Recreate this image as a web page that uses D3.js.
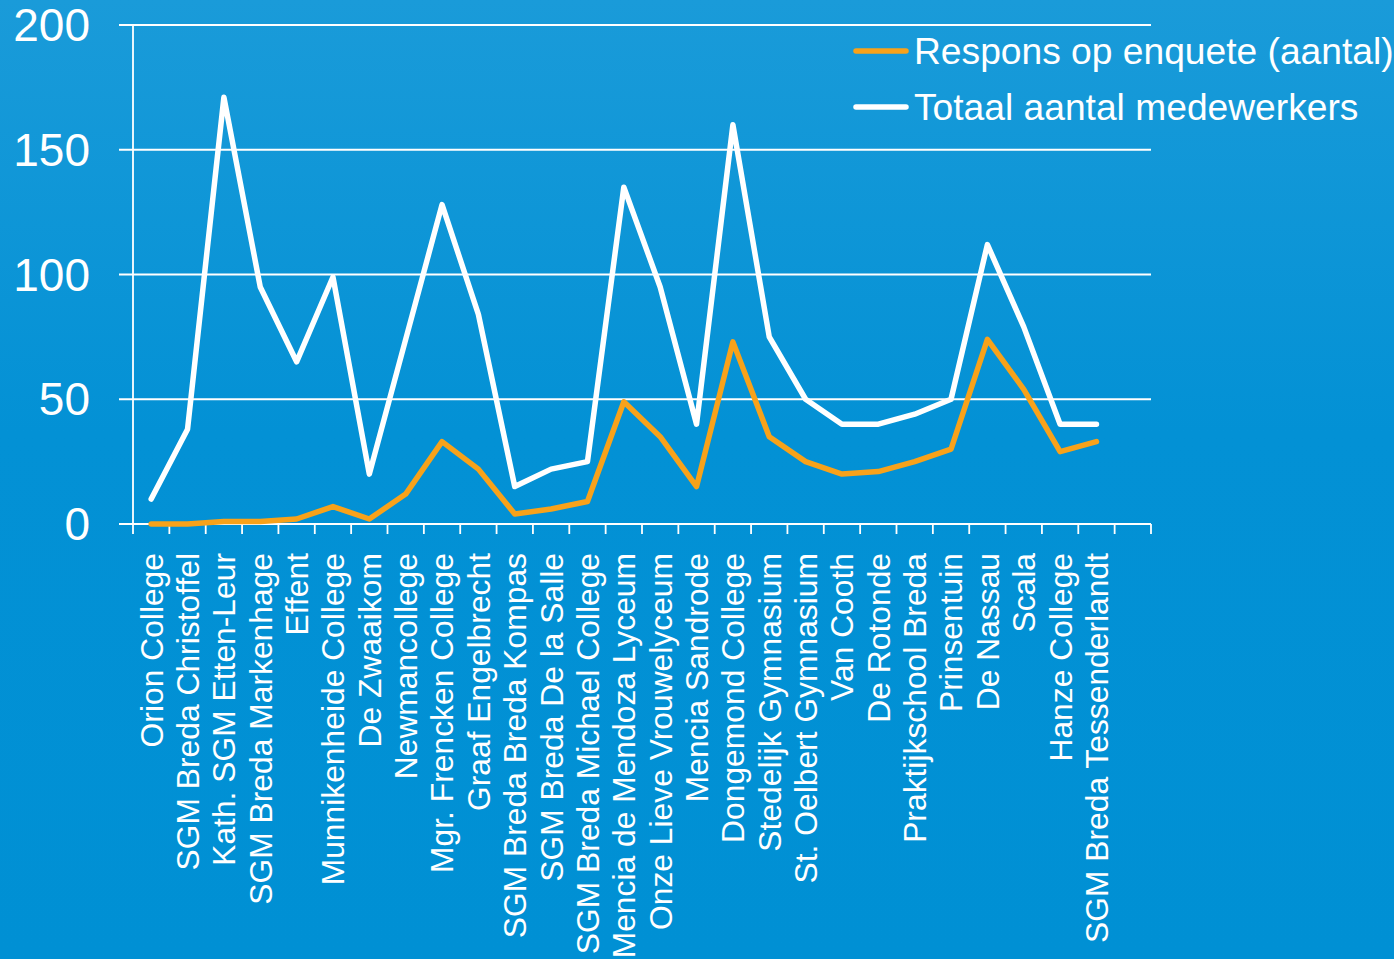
<!DOCTYPE html>
<html>
<head>
<meta charset="utf-8">
<script src="https://cdn.jsdelivr.net/npm/d3@7/dist/d3.min.js"></script>
<style>
  html, body { margin: 0; padding: 0; overflow: hidden; }
  body { width: 1394px; height: 959px; }
  svg { display: block; }
  text { font-family: "Liberation Sans", Arial, sans-serif; fill: #ffffff; }
</style>
</head>
<body>
<svg id="chart" width="1394" height="959"></svg>
<script>
const categories = [
  "Orion College", "SGM Breda Christoffel", "Kath. SGM Etten-Leur", "SGM Breda Markenhage",
  "Effent", "Munnikenheide College", "De Zwaaikom", "Newmancollege", "Mgr. Frencken College",
  "Graaf Engelbrecht", "SGM Breda Breda Kompas", "SGM Breda De la Salle", "SGM Breda Michael College",
  "Mencia de Mendoza Lyceum", "Onze Lieve Vrouwelyceum", "Mencia Sandrode", "Dongemond College",
  "Stedelijk Gymnasium", "St. Oelbert Gymnasium", "Van Cooth", "De Rotonde", "Praktijkschool Breda",
  "Prinsentuin", "De Nassau", "Scala", "Hanze College", "SGM Breda Tessenderlandt"
];
const respons = [0, 0, 1, 1, 2, 7, 2, 12, 33, 22, 4, 6, 9, 49, 35, 15, 73, 35, 25, 20, 21, 25, 30, 74, 54, 29, 33];
const totaal  = [10, 38, 171, 95, 65, 99, 20, 74, 128, 84, 15, 22, 25, 135, 95, 40, 160, 75, 50, 40, 40, 44, 50, 112, 79, 40, 40];
const yTicks = [0, 50, 100, 150, 200];
const seriesNames = ["Respons op enquete (aantal)", "Totaal aantal medewerkers"];
const seriesColors = ["#f8a21a", "#ffffff"];
const slotCount = 28; // one empty slot at the end of the axis

(function () {
const svg = d3.select("#chart");
const W = 1394, H = 959;

// background gradient
const defs = svg.append("defs");
const grad = defs.append("linearGradient").attr("id", "bg").attr("x1", 0).attr("y1", 0).attr("x2", 0).attr("y2", 1);
grad.append("stop").attr("offset", "0%").attr("stop-color", "#1a9bd9");
grad.append("stop").attr("offset", "45%").attr("stop-color", "#0391d5");
grad.append("stop").attr("offset", "100%").attr("stop-color", "#0090d4");
svg.append("rect").attr("width", W).attr("height", H).attr("fill", "url(#bg)");

const pL = 133, pR = 1151, pT = 25, pB = 524;
const x = d3.scaleBand().domain(d3.range(slotCount)).range([pL, pR]).paddingInner(0).paddingOuter(0);
const y = d3.scaleLinear().domain([0, 200]).range([pB, pT]);
const bw = x.bandwidth();

// gridlines
svg.append("g").selectAll("line").data(yTicks).join("line")
  .attr("x1", 119).attr("x2", pR)
  .attr("y1", d => y(d)).attr("y2", d => y(d))
  .attr("stroke", "#ffffff").attr("stroke-width", 1.8);

// y axis line
svg.append("line").attr("x1", pL).attr("x2", pL).attr("y1", pT).attr("y2", pB + 10)
  .attr("stroke", "#ffffff").attr("stroke-width", 1.8);

// x ticks at band boundaries
const bounds = d3.range(1, slotCount + 1).map(i => i < slotCount ? x(i) : pR);
svg.append("g").selectAll("line").data(bounds).join("line")
  .attr("x1", d => d).attr("x2", d => d)
  .attr("y1", pB).attr("y2", pB + 10)
  .attr("stroke", "#ffffff").attr("stroke-width", 1.8);

// y tick labels
svg.append("g").selectAll("text").data(yTicks).join("text")
  .attr("x", 90).attr("y", d => y(d)).attr("dy", "0.35em")
  .attr("text-anchor", "end").attr("font-size", 46)
  .text(d => d);

// x labels
svg.append("g").selectAll("text").data(categories).join("text")
  .attr("transform", (d, i) => `translate(${x(i) + bw / 2},553) rotate(-90)`)
  .attr("dy", "0.36em")
  .attr("text-anchor", "end").attr("font-size", 31.8)
  .text(d => d);

// lines
const line = d3.line().x((d, i) => x(i) + bw / 2).y(d => y(d));
[[totaal, seriesColors[1]], [respons, seriesColors[0]]].forEach(([s, c]) => {
  svg.append("path").datum(s)
    .attr("d", line)
    .attr("fill", "none")
    .attr("stroke", c)
    .attr("stroke-width", 5.5)
    .attr("stroke-linejoin", "round")
    .attr("stroke-linecap", "round");
});

// legend
const legend = svg.append("g");
seriesNames.forEach((name, k) => {
  const ly = 51 + k * 56;
  legend.append("line").attr("x1", 856).attr("x2", 906).attr("y1", ly).attr("y2", ly)
    .attr("stroke", seriesColors[k]).attr("stroke-width", 5.5).attr("stroke-linecap", "round");
  legend.append("text").attr("x", 914).attr("y", ly).attr("dy", "0.35em")
    .attr("font-size", 37.2).text(name);
});
})();
</script>
</body>
</html>
